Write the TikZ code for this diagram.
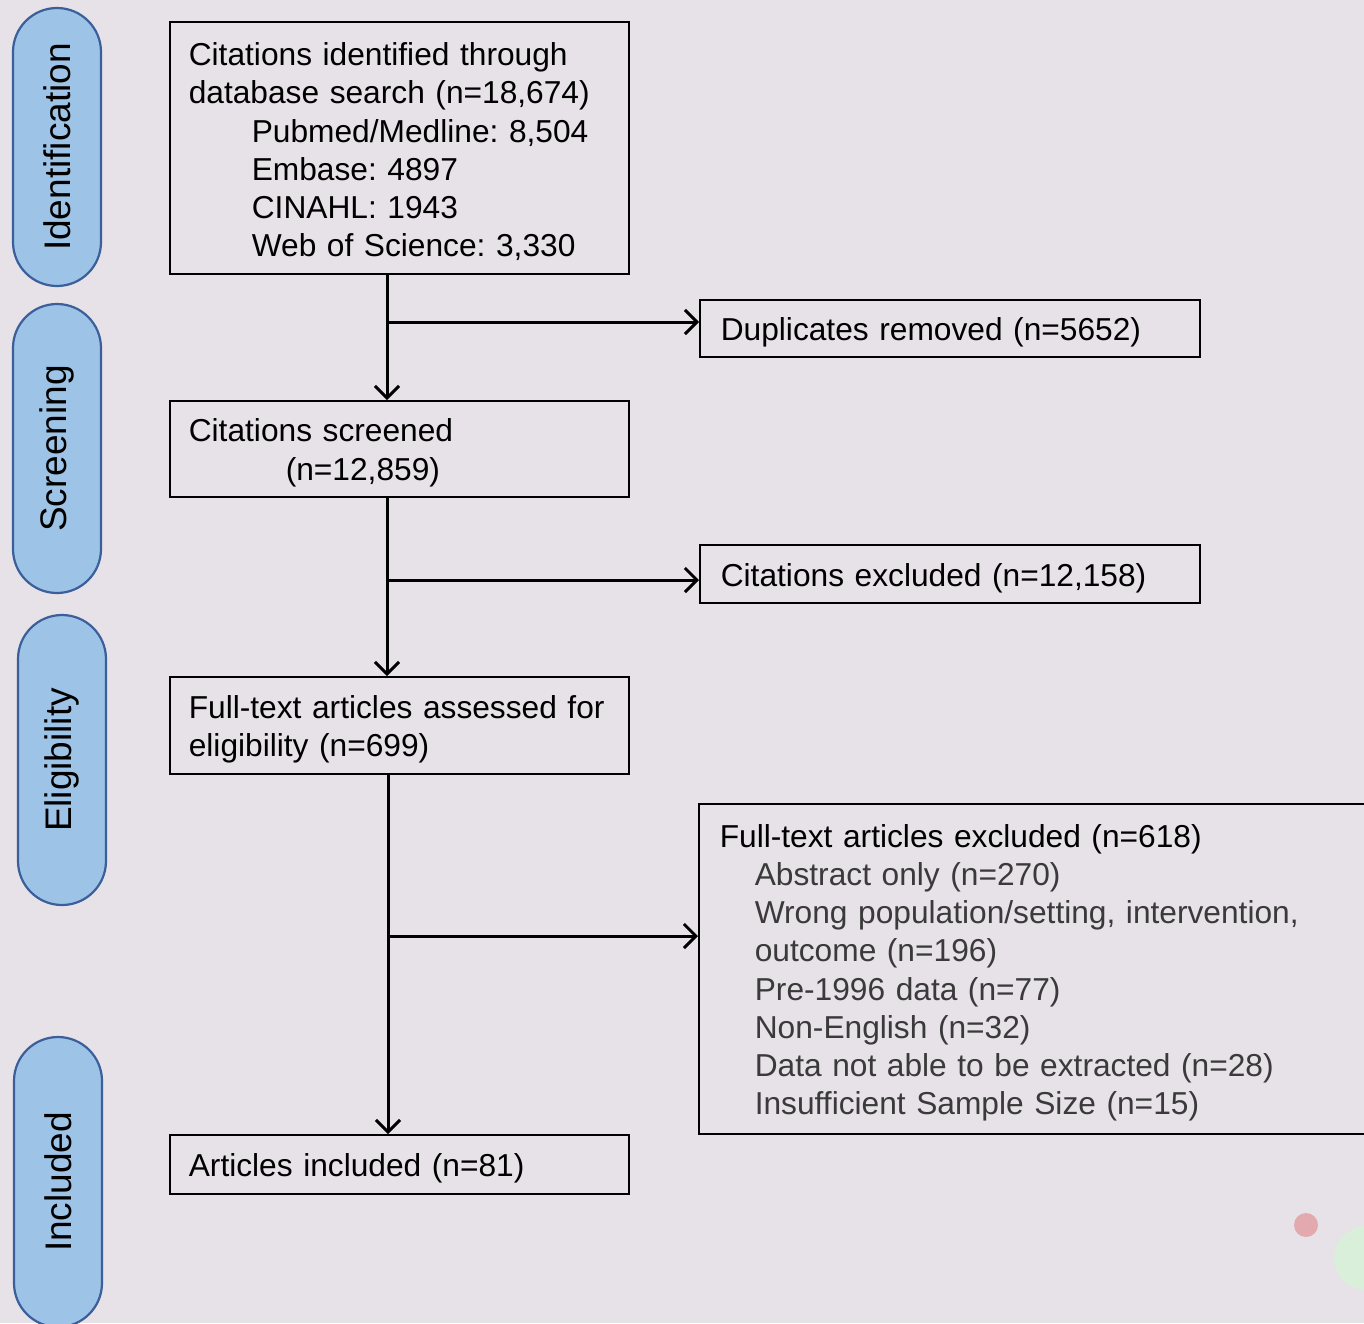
\documentclass[tikz,border=0pt]{standalone}
\usepackage{fontspec}
\setmainfont{Liberation Sans}
\usetikzlibrary{arrows.meta}
\definecolor{bgc}{HTML}{E7E1E8}
\definecolor{pillfill}{HTML}{9DC3E6}
\definecolor{pillline}{HTML}{3A5F9A}
\definecolor{subgray}{HTML}{3A3A3A}
\definecolor{dotred}{HTML}{E2AAAE}
\definecolor{dotgreen}{HTML}{D9EFD9}
\newcommand\topfix{\rule{0pt}{31pt}}
\frenchspacing
\begin{document}
\begin{tikzpicture}[x=1pt,y=-1pt,
  every node/.style={font=\fontsize{31.7}{38.2}\selectfont},
  flowbox/.style={draw=black,line width=1.6pt,rectangle,anchor=north west,align=left,inner xsep=19pt,inner ysep=0pt},
  pill/.style={draw=pillline,fill=pillfill,line width=2.2pt,rounded corners=44pt,rotate=90,minimum height=88pt,inner sep=0pt,font=\fontsize{37}{40}\selectfont},
  arr/.style={line width=3pt,-{Straight Barb[length=12pt,width=24pt]}}]
\fill[bgc] (0,0) rectangle (1364,1323);
\useasboundingbox (0,0) rectangle (1364,1323);
\clip (0,0) rectangle (1364,1323);
% stage pills
\node[pill,minimum width=278pt] (pid) at (57,147) {Identification};
\node[pill,minimum width=289pt] (psc) at (57,448.5) {Screening};
\node[pill,minimum width=290pt] (pel) at (62,760) {Eligibility};
\node[pill,minimum width=290pt] (pin) at (58,1182) {Included};
% boxes
\node[flowbox,minimum width=459pt,minimum height=252pt,text width=421pt] (b1) at (169,21)
 {\topfix Citations identified through\\database search (n=18,674)\\\hspace*{63pt}Pubmed/Medline: 8,504\\\hspace*{63pt}Embase: 4897\\\hspace*{63pt}CINAHL: 1943\\\hspace*{63pt}Web of Science: 3,330};
\node[flowbox,minimum width=496pt,minimum height=57pt,text width=458pt,inner xsep=21pt] (dup) at (699,299)
 {\topfix Duplicates removed (n=5652)};
\node[flowbox,minimum width=459pt,minimum height=96pt,text width=421pt] (b2) at (169,400)
 {\topfix Citations screened\\\hspace*{97pt}(n=12,859)};
\node[flowbox,minimum width=496pt,minimum height=58pt,text width=458pt,inner xsep=21pt] (cex) at (699,544)
 {\topfix Citations excluded (n=12,158)};
\node[flowbox,minimum width=459pt,minimum height=97pt,text width=421pt] (b3) at (169,676)
 {\topfix Full-text articles assessed for\\eligibility (n=699)};
\node[flowbox,minimum width=700pt,minimum height=330pt,text width=658pt,inner xsep=21pt] (fex) at (698,803)
 {\topfix Full-text articles excluded (n=618)\\\color{subgray}\hspace*{35pt}Abstract only (n=270)\\\color{subgray}\hspace*{35pt}Wrong population/setting, intervention,\\\color{subgray}\hspace*{35pt}outcome (n=196)\\\color{subgray}\hspace*{35pt}Pre-1996 data (n=77)\\\color{subgray}\hspace*{35pt}Non-English (n=32)\\\color{subgray}\hspace*{35pt}Data not able to be extracted (n=28)\\\color{subgray}\hspace*{35pt}Insufficient Sample Size (n=15)};
\node[flowbox,minimum width=459pt,minimum height=59pt,text width=421pt] (b4) at (169,1134)
 {\topfix Articles included (n=81)};
% connectors
\coordinate (t1) at (387,0);
\coordinate (t3) at (388,0);
\coordinate (j1) at (387,322);
\coordinate (j2) at (387,580);
\coordinate (j3) at (388,936);
\draw[arr] (b1.south -| t1) -- (b2.north -| t1);
\draw[arr] (j1) -- (j1 -| dup.west);
\draw[arr] (b2.south -| t1) -- (b3.north -| t1);
\draw[arr] (j2) -- (j2 -| cex.west);
\draw[arr] (b3.south -| t3) -- (b4.north -| t3);
\draw[arr] (j3) -- (j3 -| fex.west);
% decorative dots
\fill[dotred] (1306,1225) circle (12);
\fill[dotgreen] (1366,1258) circle (32);
\end{tikzpicture}
\end{document}
